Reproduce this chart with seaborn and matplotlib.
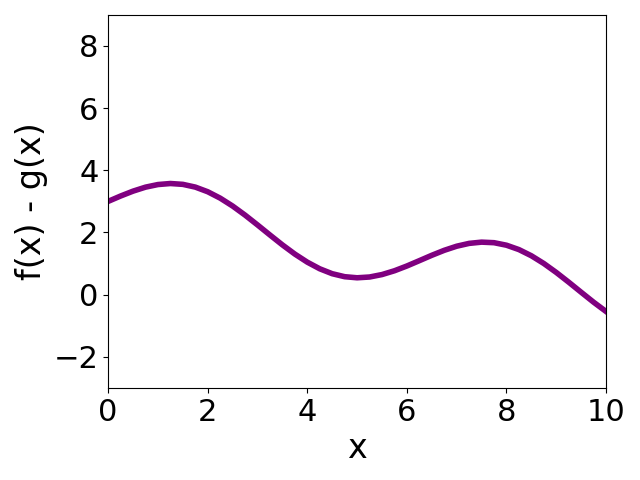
import matplotlib
matplotlib.use("Agg")
import matplotlib.pyplot as plt
import seaborn as sns
import pandas as pd

x_vals = [0.0, 0.25, 0.5, 0.75, 1.0, 1.25, 1.5, 1.75, 2.0, 2.25, 2.5, 2.75, 3.0, 3.25,
          3.5, 3.75, 4.0, 4.25, 4.5, 4.75, 5.0, 5.25, 5.5, 5.75, 6.0, 6.25, 6.5, 6.75,
          7.0, 7.25, 7.5, 7.75, 8.0, 8.25, 8.5, 8.75, 9.0, 9.25, 9.5, 9.75, 10.0]
diff_vals = [3.000, 3.172, 3.329, 3.457, 3.541, 3.574, 3.547, 3.459, 3.309, 3.103,
             2.849, 2.557, 2.241, 1.917, 1.599, 1.303, 1.043, 0.830, 0.672, 0.576,
             0.541, 0.566, 0.645, 0.767, 0.921, 1.092, 1.265, 1.425, 1.557, 1.648,
             1.688, 1.670, 1.589, 1.448, 1.249, 1.000, 0.712, 0.399, 0.075, -0.245,
             -0.544]

df = pd.DataFrame({"x": x_vals, "d": diff_vals})

fig, ax = plt.subplots(figsize=(6.4, 4.8), dpi=100)
sns.lineplot(data=df, x="x", y="d", ax=ax, color="purple", linewidth=4)
ax.set_xlim(0, 10)
ax.set_ylim(-3, 9)
ax.set_xlabel("x", fontsize=24)
ax.set_ylabel("f(x) - g(x)", fontsize=24)
ax.tick_params(labelsize=22)
fig.subplots_adjust(left=0.169, right=0.947, top=0.969, bottom=0.192)
fig.savefig("out.png", dpi=100)
